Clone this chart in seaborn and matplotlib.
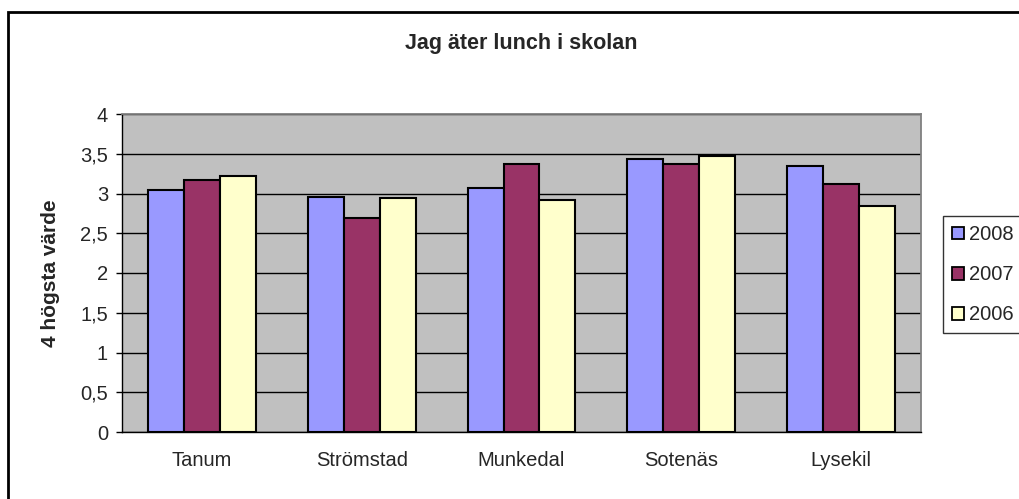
import matplotlib
matplotlib.use("Agg")
import matplotlib.pyplot as plt
from matplotlib.patches import Patch, Rectangle
from matplotlib.ticker import FuncFormatter, MultipleLocator, FixedLocator
import seaborn as sns
import pandas as pd

# =========================
# Data
# =========================

kommuner = ["Tanum", "Strömstad", "Munkedal", "Sotenäs", "Lysekil"]
years = ["2008", "2007", "2006"]

v2008 = [3.05, 2.96, 3.07, 3.44, 3.34]
v2007 = [3.17, 2.69, 3.37, 3.37, 3.12]
v2006 = [3.22, 2.94, 2.92, 3.47, 2.84]

colors = ["#9999FF", "#993366", "#FFFFCC"]

df = pd.DataFrame({
    "kommun": kommuner * 3,
    "year": [y for y in years for _ in kommuner],
    "value": v2008 + v2007 + v2006,
})

# =========================
# Style
# =========================

sns.set_style("white")
plt.rcParams['font.family'] = ['Liberation Sans', 'DejaVu Sans']

fig = plt.figure(figsize=(10.2, 4.99), dpi=100)
ax = fig.add_axes([122/1020, 1 - 432/499, 799/1020, 318/499])

sns.barplot(
    data=df, x="kommun", y="value", hue="year",
    hue_order=years, palette=colors, saturation=1,
    width=0.675, edgecolor="black", linewidth=1.5,
    legend=False, zorder=3, ax=ax
)

ax.set_facecolor("#C0C0C0")
ax.set_ylim(0, 4)
ax.set_xlim(-0.5, len(kommuner) - 0.5)

# grid lines
ax.yaxis.set_major_locator(MultipleLocator(0.5))
ax.yaxis.grid(True, color="black", linewidth=1.0)
ax.set_axisbelow(True)

ax.yaxis.set_major_formatter(
    FuncFormatter(lambda v, p: f"{v:g}".replace(".", ","))
)

# spines
for s in ["top", "right"]:
    ax.spines[s].set_color("#808080")
    ax.spines[s].set_linewidth(1.3)
for s in ["left", "bottom"]:
    ax.spines[s].set_color("black")
    ax.spines[s].set_linewidth(1.0)

# ticks: x ticks between categories
ax.xaxis.set_minor_locator(FixedLocator([i - 0.5 for i in range(len(kommuner) + 1)]))
ax.tick_params(axis="x", which="major", length=0, pad=14, labelsize=14.5)
ax.tick_params(axis="x", which="minor", length=5, width=1, color="black", direction="out")
ax.tick_params(axis="y", which="major", length=4, width=1, color="black",
               direction="out", left=True, pad=6, labelsize=14.5)

ax.set_xlabel("")
ax.set_ylabel("4 högsta värde", fontsize=15, fontweight="bold")
ax.yaxis.set_label_coords(-0.0776, 0.5)

# =========================
# Title
# =========================

fig.text(521.5/1020, 1 - 49/499, "Jag äter lunch i skolan",
         ha="center", va="baseline", fontsize=15.5, fontweight="bold")

# =========================
# Legend
# =========================

handles = [Patch(facecolor=c, edgecolor="black", linewidth=1.3, label=y)
           for c, y in zip(colors, years)]
leg = fig.legend(
    handles=handles, loc="upper left",
    bbox_to_anchor=(943/1020, 1 - 216/499),
    fontsize=14.5, frameon=True, fancybox=False,
    handlelength=0.6, handleheight=0.6, handletextpad=0.25,
    borderpad=0.45, labelspacing=1.05, borderaxespad=0
)
leg.get_frame().set_edgecolor("black")
leg.get_frame().set_linewidth(1.0)

# =========================
# Outer border
# =========================

fig.patches.append(Rectangle(
    (8/1020, -0.1), 1.2, 1.1 - 12/499,
    transform=fig.transFigure, fill=False,
    edgecolor="black", linewidth=2.0, clip_on=False
))

fig.savefig("out.png", dpi=100)
